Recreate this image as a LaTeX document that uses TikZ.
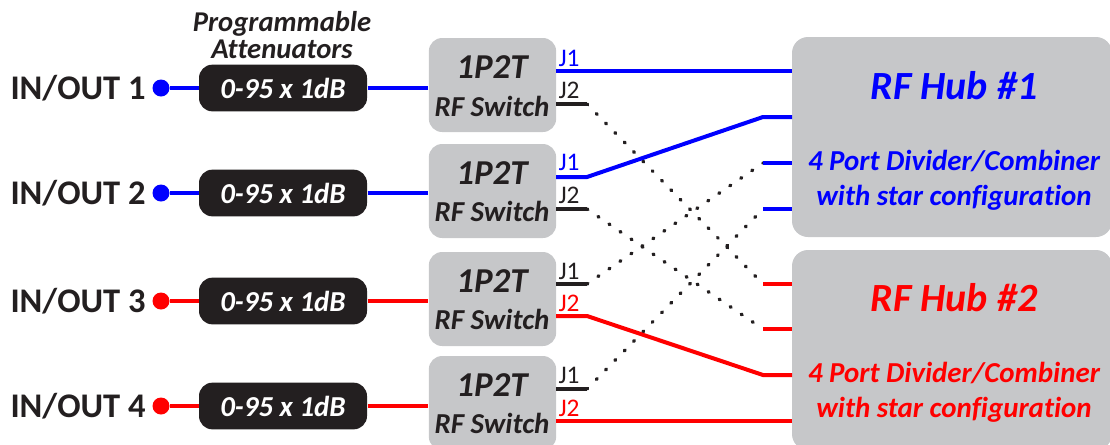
\documentclass[tikz,border=0pt]{standalone}
\usepackage{fontspec}
\setmainfont[Ligatures={NoCommon}]{Carlito}
\definecolor{inkblack}{HTML}{231F20}
\definecolor{boxgray}{HTML}{C6C7C9}
\definecolor{hubblue}{HTML}{0000FF}
\definecolor{hubred}{HTML}{FF0000}
\tikzset{every picture/.style={line width=0.75pt},
  portlabel/.style={anchor=west,inner sep=0.75pt,text=inkblack,font=\bfseries\fontsize{25.9}{28}\selectfont},
  portdot/.style={circle,inner sep=0pt,minimum size=12.75pt},
  attenbox/.style={draw=none,fill=inkblack,rounded corners=10pt,minimum width=126pt,minimum height=35pt,inner sep=0pt,text=white,font=\bfseries\itshape\fontsize{21.7}{24}\selectfont},
  switchbox/.style={fill=boxgray,rounded corners=10pt,minimum width=95.5pt,minimum height=70.5pt,inner sep=0pt},
  hubbox/.style={fill=boxgray,rounded corners=12pt,minimum width=240pt,minimum height=150pt,inner sep=0pt},
  boldtext/.style={inner sep=0.75pt,font=\bfseries\itshape\fontsize{#1}{#1}\selectfont},
  jlabel/.style={anchor=west,inner sep=0pt,font=\fontsize{19}{20}\selectfont},
  wire/.style={line width=3pt},
  graywire/.style={line width=3pt,inkblack},
  dotwire/.style={inkblack,line width=2.6pt,line cap=round,dash pattern=on 0.8pt off 9.2pt}}

\begin{document}
\begin{tikzpicture}[x=0.75pt,y=0.75pt,yscale=-1,xscale=1]
\useasboundingbox (0,0) rectangle (1110,444);
% Boxes
\node [switchbox] (sw1) at (492.5,85) {};
\node [switchbox] (sw2) at (492.5,191) {};
\node [switchbox] (sw3) at (492.5,299) {};
\node [switchbox] (sw4) at (492.5,403) {};
\node [hubbox] (hub1) at (952,137) {};
\node [hubbox] (hub2) at (952,350) {};
\node [attenbox] (att1) at (283,88) {0-95 x 1dB};
\node [attenbox] (att2) at (283,193) {0-95 x 1dB};
\node [attenbox] (att3) at (283,301) {0-95 x 1dB};
\node [attenbox] (att4) at (283,406) {0-95 x 1dB};
% Inputs
\node [portdot,fill=hubblue] (dot1) at (161,88) {};
\node [portdot,fill=hubblue] (dot2) at (161,193) {};
\node [portdot,fill=hubred] (dot3) at (161,301) {};
\node [portdot,fill=hubred] (dot4) at (161,406) {};
\node [portlabel] (in1) at (9,88) {IN/OUT 1};
\node [portlabel] (in2) at (9,193) {IN/OUT 2};
\node [portlabel] (in3) at (9,301) {IN/OUT 3};
\node [portlabel] (in4) at (9,406) {IN/OUT 4};
\draw [wire,hubblue] (dot1) -- (att1);
\draw [wire,hubblue] (dot2) -- (att2);
\draw [wire,hubred] (dot3) -- (att3);
\draw [wire,hubred] (dot4) -- (att4);
\draw [wire,hubblue] (att1.east) -- (att1.east -| sw1.west);
\draw [wire,hubblue] (att2.east) -- (att2.east -| sw2.west);
\draw [wire,hubred] (att3.east) -- (att3.east -| sw3.west);
\draw [wire,hubred] (att4.east) -- (att4.east -| sw4.west);
% Switch ports and hub ports
\coordinate (a1) at (556,71);
\coordinate (a2) at (556,104);
\coordinate (b1) at (556,177);
\coordinate (b2) at (556,209);
\coordinate (c1) at (556,284);
\coordinate (c2) at (556,316);
\coordinate (d1) at (556,389);
\coordinate (d2) at (556,421);
\coordinate (a2e) at (587,104);
\coordinate (b1e) at (587,177);
\coordinate (b2e) at (587,209);
\coordinate (c1e) at (587,284);
\coordinate (c2e) at (587,316);
\coordinate (d1e) at (587,389);
\coordinate (p1) at (792,71);
\coordinate (p2) at (792,117);
\coordinate (p3) at (792,163);
\coordinate (p4) at (792,209);
\coordinate (q1) at (792,284);
\coordinate (q2) at (792,329);
\coordinate (q3) at (792,375);
\coordinate (q4) at (792,421);
\coordinate (p2s) at (763,117);
\coordinate (p3s) at (763,163);
\coordinate (p4s) at (763,209);
\coordinate (q1s) at (763,284);
\coordinate (q2s) at (763,329);
\coordinate (q3s) at (763,375);
% Dotted crossings
\draw [dotwire] (a2e) -- (q1s);
\draw [dotwire] (b2e) -- (q2s);
\draw [dotwire] (c1e) -- (p3s);
\draw [dotwire] (d1e) -- (p4s);
% Solid links
\draw [wire,hubblue] (a1) -- (p1);
\draw [wire,hubblue] (b1) -- (b1e) -- (p2s) -- (p2);
\draw [wire,hubblue] (p3s) -- (p3);
\draw [wire,hubblue] (p4s) -- (p4);
\draw [wire,hubred] (q1s) -- (q1);
\draw [wire,hubred] (q2s) -- (q2);
\draw [wire,hubred] (c2) -- (c2e) -- (q3s) -- (q3);
\draw [wire,hubred] (d2) -- (q4);
\draw [graywire] (a2) -- (a2e);
\draw [graywire] (b2) -- (b2e);
\draw [graywire] (c1) -- (c1e);
\draw [graywire] (d1) -- (d1e);
% Port labels
\node [jlabel,text=hubblue] (ja1) at (558,58) {J1};
\node [jlabel,text=inkblack] (ja2) at (558,90) {J2};
\node [jlabel,text=hubblue] (jb1) at (558,162) {J1};
\node [jlabel,text=inkblack] (jb2) at (558,195) {J2};
\node [jlabel,text=inkblack] (jc1) at (558,271) {J1};
\node [jlabel,text=hubred] (jc2) at (558,303) {J2};
\node [jlabel,text=inkblack] (jd1) at (558,375) {J1};
\node [jlabel,text=hubred] (jd2) at (558,408) {J2};
% Text Node
\node [boldtext=21.5,text=inkblack] (atta) at (282,23.5) {Programmable};
\node [boldtext=21.5,text=inkblack] (attb) at (282,49) {Attenuators};
\node [boldtext=26.2,text=inkblack] (swa1) at (492,67) {1P2T};
\node [boldtext=21.7,text=inkblack] (swb1) at (492,106) {RF Switch};
\node [boldtext=26.2,text=inkblack] (swa2) at (492,173) {1P2T};
\node [boldtext=21.7,text=inkblack] (swb2) at (492,211) {RF Switch};
\node [boldtext=26.2,text=inkblack] (swa3) at (492,281) {1P2T};
\node [boldtext=21.7,text=inkblack] (swb3) at (492,319) {RF Switch};
\node [boldtext=26.2,text=inkblack] (swa4) at (492,385) {1P2T};
\node [boldtext=21.7,text=inkblack] (swb4) at (492,423) {RF Switch};
\node [boldtext=30,text=hubblue] (huba1) at (954,86) {RF Hub \#1};
\node [boldtext=21.7,text=hubblue] (hubb1) at (954,161) {4 Port Divider/Combiner};
\node [boldtext=21.7,text=hubblue] (hubc1) at (954,198) {with star configuration};
\node [boldtext=30,text=hubred] (huba2) at (954,298) {RF Hub \#2};
\node [boldtext=21.7,text=hubred] (hubb2) at (954,373) {4 Port Divider/Combiner};
\node [boldtext=21.7,text=hubred] (hubc2) at (954,410) {with star configuration};
\end{tikzpicture}
\end{document}
